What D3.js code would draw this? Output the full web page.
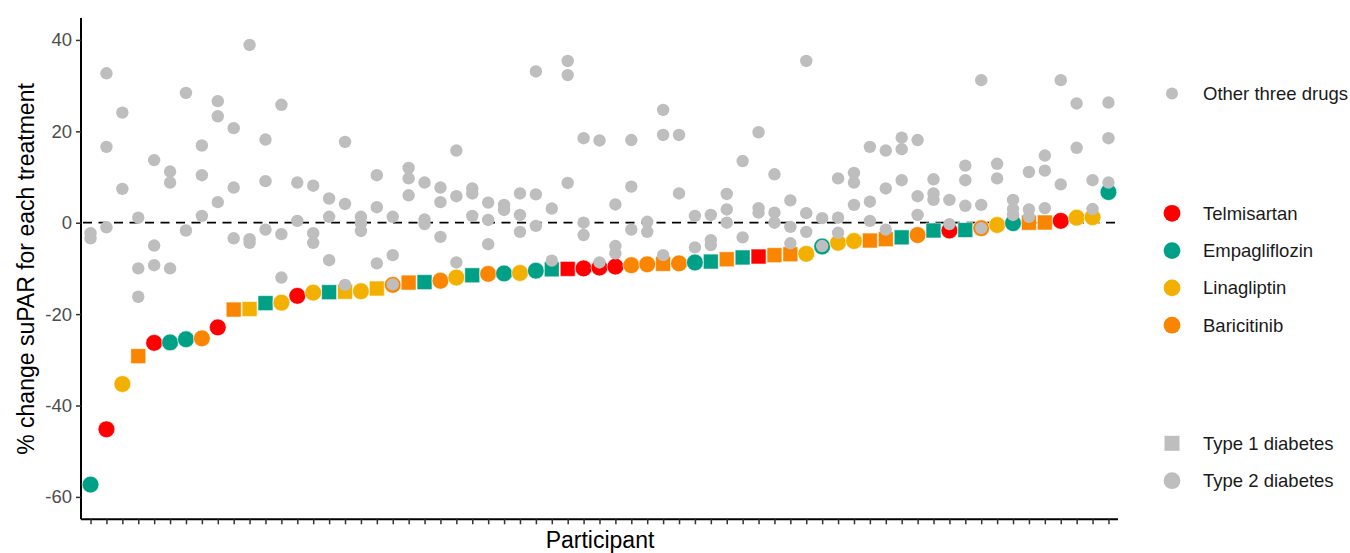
<!DOCTYPE html>
<html>
<head>
<meta charset="utf-8">
<script src="https://cdn.jsdelivr.net/npm/d3@7"></script>
<style>
  body { margin: 0; background: #fff; }
  svg { display: block; font-family: "Liberation Sans", Arial, sans-serif; }
</style>
</head>
<body>
<svg width="1350" height="553"></svg>
<script>
// best responding drug per participant (sorted by % change)
var bestDrug = ["E","T","L","B","T","E","E","B","T","B","L","E","L","T","L","E","L","L","L","B",
                "B","E","B","L","E","B","E","L","E","E","T","T","T","T","B","B","B","B","E","E",
                "B","E","T","B","B","L","E","L","L","B","B","E","B","E","T","E","B","L","E","B",
                "B","T","L","L","E"];
// 1 = type 1 diabetes (square), 2 = type 2 diabetes (circle)
var diabetesType = [2,2,2,1,2,2,2,2,2,1,1,1,2,2,2,1,1,2,1,2,
                    1,1,2,2,1,2,2,2,2,1,1,2,2,2,2,2,1,2,2,1,
                    1,1,1,1,1,2,2,2,2,1,1,1,2,1,2,1,2,2,2,1,
                    1,2,2,2,2];
var bestChange = [-57.3,-45.2,-35.3,-29.2,-26.3,-26.2,-25.5,-25.3,-22.9,-19.0,-18.9,-17.6,-17.5,-16.0,-15.3,-15.2,-15.1,-15.0,-14.4,-13.6,
                  -13.1,-13.0,-12.7,-12.0,-11.5,-11.2,-11.1,-11.0,-10.5,-10.2,-10.1,-10.0,-9.8,-9.6,-9.3,-9.1,-9.0,-8.9,-8.7,-8.5,
                  -8.0,-7.6,-7.4,-7.1,-6.9,-6.8,-5.2,-4.4,-4.0,-3.9,-3.6,-3.2,-2.7,-1.7,-1.7,-1.6,-1.2,-0.5,-0.1,0.0,
                  0.05,0.4,1.1,1.2,6.7];
// % change with the other three drugs
var otherChange = [
  [-2.3,-3.4],[32.7,16.6,-1.0],[24.1,7.4],[1.1,-10.0,-16.2],[13.7,-5.0,-9.3],
  [11.2,8.8,-10.0],[28.4,-1.7],[16.9,10.4,1.5],[26.6,23.3,4.5],[20.7,7.7,-3.4],
  [38.9,-3.6,-4.4],[18.2,9.1,-1.5],[25.8,-2.5,-12.0],[8.8,0.4],[8.1,-2.3,-4.4],
  [5.3,1.3,-8.2],[17.7,4.1,-13.6],[1.3,-0.1,-1.8],[10.4,3.4,-8.9],[1.3,-7.1,-13.5],
  [12.0,9.7,6.0],[8.8,0.7,-0.3],[7.7,4.5,-3.1],[15.8,5.8,-8.7],[7.5,6.4,1.5],
  [4.4,0.6,-4.7],[3.9,2.8],[6.4,1.7,-2.0],[33.1,6.2,-0.7],[3.1,-8.3],
  [35.4,32.3,8.7],[18.5,0.0,-2.7],[18.0,-8.7],[4.0,-5.1,-6.7],[18.1,7.9,-1.5],
  [0.2,-2.0],[24.7,19.2,-7.1],[19.2,6.4],[1.5,-5.4],[1.7,-3.8,-4.9],
  [6.3,2.9,0.0],[13.5,-3.2],[19.8,3.2,2.2],[10.6,2.2,0.0],[4.9,-0.9,-4.5],
  [35.4,2.1,-2.0],[1.0,-5.1],[9.7,1.1,-2.2],[10.9,8.8,3.9],[16.6,4.6,0.4],
  [15.8,7.5,-1.5],[18.6,16.1,9.3],[18.1,5.8,1.7],[9.5,6.4,5.0],[5.0,-0.3],
  [12.5,9.3,3.7],[31.2,3.9,-1.2],[12.9,9.7],[5.0,3.0,1.7],[11.1,2.9,1.3],
  [14.7,11.4,3.2],[31.2,8.4],[26.1,16.4],[9.3,3.0],[26.3,18.5,8.8]
];
var drugNames = ["Telmisartan","Empagliflozin","Linagliptin","Baricitinib"];
var drugCodes = ["T","E","L","B"];
var drugColors = ["#FF0000","#00A087","#F3B000","#F98500"];
var yTicks = [40,20,0,-20,-40,-60];
var grey = "#BEBEBE";

var svg = d3.select("svg");
var color = d3.scaleOrdinal().domain(drugCodes).range(drugColors);

var x = d3.scaleLinear().domain([-0.6, 64.6]).range([81, 1118]);
var y = d3.scaleLinear().domain([-64.9, 44.8]).range([519.3, 18]);

// axes
var yAxis = svg.append("g")
    .attr("transform", "translate(81,0)")
    .call(d3.axisLeft(y).tickValues(yTicks).tickSize(5).tickPadding(4).tickFormat(d => String(d)));
yAxis.select(".domain").attr("stroke", "#000").attr("stroke-width", 2)
    .attr("d", "M0," + y.range()[1] + "V" + y.range()[0]);
yAxis.selectAll(".tick line").attr("stroke", "#333").attr("stroke-width", 1.5);
yAxis.selectAll(".tick text").attr("fill", "#4d4d4d").style("font-size", "18.5px")
    .attr("font-family", "Liberation Sans, Arial, sans-serif");

var xAxis = svg.append("g")
    .attr("transform", "translate(0,519.3)")
    .call(d3.axisBottom(x).tickValues(d3.range(bestChange.length)).tickSize(5).tickFormat(""));
xAxis.select(".domain").attr("stroke", "#000").attr("stroke-width", 2)
    .attr("d", "M81,0H1118");
xAxis.selectAll(".tick line").attr("stroke", "#333").attr("stroke-width", 1.5);

// reference line at zero
svg.append("line")
    .attr("x1", 83).attr("x2", 1116)
    .attr("y1", y(0)).attr("y2", y(0))
    .attr("stroke", "#000").attr("stroke-width", 1.8)
    .attr("stroke-dasharray", "9,6.5");

// best drug markers
var best = bestChange.map((v, i) => ({i: i, v: v, drug: bestDrug[i], type: diabetesType[i]}));
svg.append("g").selectAll(".best")
    .data(best)
    .enter()
    .append("path")
        .classed("best", true)
        .attr("transform", d => "translate(" + x(d.i) + "," + y(d.v) + ")")
        .attr("d", d => d.type === 1
            ? d3.symbol(d3.symbolSquare, 15 * 15)()
            : d3.symbol(d3.symbolCircle, Math.PI * 8.4 * 8.4)())
        .attr("fill", d => color(d.drug))
        .attr("stroke", "#fff")
        .attr("stroke-width", 0.6);

// other three drugs
var others = [];
otherChange.forEach((arr, i) => arr.forEach(v => others.push({i: i, v: v})));
svg.append("g").selectAll(".other")
    .data(others)
    .enter()
    .append("circle")
        .classed("other", true)
        .attr("cx", d => x(d.i))
        .attr("cy", d => y(d.v))
        .attr("r", 6.2)
        .attr("fill", grey);

// axis titles
svg.append("text")
    .attr("x", 600).attr("y", 548)
    .attr("text-anchor", "middle")
    .style("font-size", "23px")
    .attr("fill", "#000")
    .text("Participant");
svg.append("text")
    .attr("transform", "translate(34,269) rotate(-90)")
    .attr("text-anchor", "middle")
    .style("font-size", "23px")
    .attr("fill", "#000")
    .text("% change suPAR for each treatment");

// legends
var leg = svg.append("g");
leg.append("circle").attr("cx", 1172).attr("cy", 93.5).attr("r", 6).attr("fill", grey);
leg.append("text").attr("x", 1203).attr("y", 93.5).attr("dy", "0.35em")
    .style("font-size", "18.5px").attr("fill", "#1a1a1a").text("Other three drugs");

drugNames.forEach((name, k) => {
    var cy = 213.3 + k * 37.3;
    leg.append("circle").attr("cx", 1172).attr("cy", cy).attr("r", 8.4).attr("fill", drugColors[k]);
    leg.append("text").attr("x", 1203).attr("y", cy).attr("dy", "0.35em")
        .style("font-size", "18.5px").attr("fill", "#1a1a1a").text(name);
});

leg.append("path")
    .attr("transform", "translate(1172,443.3)")
    .attr("d", d3.symbol(d3.symbolSquare, 15 * 15)())
    .attr("fill", grey);
leg.append("text").attr("x", 1203).attr("y", 443.3).attr("dy", "0.35em")
    .style("font-size", "18.5px").attr("fill", "#1a1a1a").text("Type 1 diabetes");
leg.append("circle").attr("cx", 1172).attr("cy", 480.7).attr("r", 8.4).attr("fill", grey);
leg.append("text").attr("x", 1203).attr("y", 480.7).attr("dy", "0.35em")
    .style("font-size", "18.5px").attr("fill", "#1a1a1a").text("Type 2 diabetes");
</script>
</body>
</html>
